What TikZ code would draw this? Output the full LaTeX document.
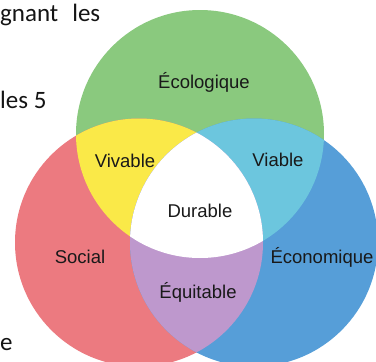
\documentclass[tikz,border=0pt]{standalone}
\usepackage{fontspec}
\setmainfont{Liberation Sans}
\newfontfamily\bodyfont{Carlito}
\begin{document}
\begin{tikzpicture}[x=1pt,y=-1pt,
  lbl/.style={anchor=base,inner sep=0pt,text=black!90,font=\fontsize{18.5}{20}\selectfont},
  bodytxt/.style={inner sep=0pt,text=black!92,font=\bodyfont\fontsize{25}{28}\selectfont}]
\definecolor{ecogreen}{RGB}{138,201,126}
\definecolor{socred}{RGB}{236,122,128}
\definecolor{econblue}{RGB}{86,158,216}
\definecolor{vivyellow}{RGB}{250,233,72}
\definecolor{viacyan}{RGB}{108,198,222}
\definecolor{equipurple}{RGB}{190,152,205}
% canvas
\useasboundingbox (0,0) rectangle (376,362);
\fill[white] (0,0) rectangle (376,362);
% circle centres
\coordinate (G) at (200,134);
\coordinate (R) at (139,242.5);
\coordinate (B) at (254,242.5);
\def\rad{124pt}
\begin{scope}
  \clip (0,0) rectangle (376,362);
  \fill[ecogreen] (G) circle[radius=\rad];
  \fill[socred] (R) circle[radius=\rad];
  \fill[econblue] (B) circle[radius=\rad];
  % pairwise overlaps
  \begin{scope}
    \clip (G) circle[radius=\rad];
    \fill[vivyellow] (R) circle[radius=\rad];
    \fill[viacyan] (B) circle[radius=\rad];
  \end{scope}
  \begin{scope}
    \clip (R) circle[radius=\rad];
    \fill[equipurple] (B) circle[radius=\rad];
  \end{scope}
  % common centre
  \begin{scope}
    \clip (G) circle[radius=\rad];
    \clip (R) circle[radius=\rad];
    \fill[white] (B) circle[radius=\rad];
  \end{scope}
\end{scope}
% labels
\node[lbl] (eco) at (204,88) {Écologique};
\node[lbl] (viv) at (125,167) {Vivable};
\node[lbl] (via) at (278,166) {Viable};
\node[lbl] (dur) at (200,217) {Durable};
\node[lbl] (soc) at (80,263) {Social};
\node[lbl] (econ) at (322,263) {Économique};
\node[lbl] (equ) at (198,298) {Équitable};
% surrounding body text
\node[bodytxt,anchor=base west] (t1) at (0,21) {gnant\hspace{14pt}les};
\node[bodytxt,anchor=base west] (t2) at (0,108) {les 5};
\node[bodytxt,anchor=base west] (t3) at (0,350) {e};
\end{tikzpicture}
\end{document}
